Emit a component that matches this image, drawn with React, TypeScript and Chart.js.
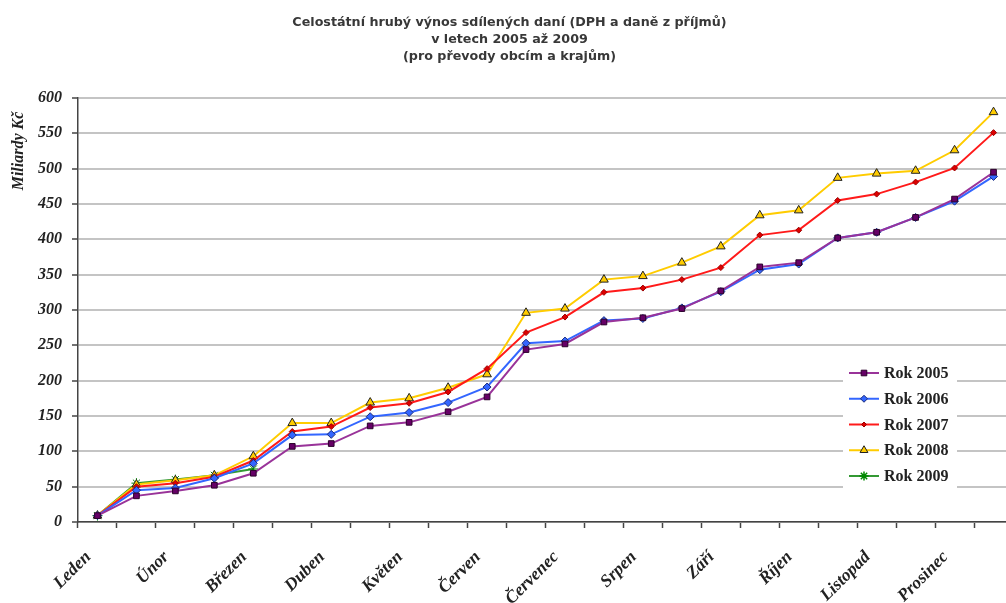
import React, { useEffect, useRef } from "react";
import { Chart, registerables } from "chart.js";

Chart.register(...registerables);

const months = ["Leden", "Únor", "Březen", "Duben", "Květen", "Červen", "Červenec", "Srpen", "Září", "Říjen", "Listopad", "Prosinec"];
const categories = months.flatMap((m) => [m, ""]);

const rok2005 = [9, 37, 44, 52, 69, 107, 111, 136, 141, 156, 177, 244, 252, 283, 289, 302, 327, 361, 367, 402, 410, 431, 457, 495];
const rok2006 = [9, 45, 48, 62, 83, 123, 124, 149, 155, 169, 191, 253, 256, 285, 288, 303, 326, 357, 365, 402, 410, 431, 454, 489];
const rok2007 = [9, 50, 55, 64, 87, 128, 135, 162, 168, 184, 217, 268, 290, 325, 331, 343, 360, 406, 413, 455, 464, 481, 501, 551];
const rok2008 = [9, 53, 59, 66, 93, 140, 140, 169, 175, 190, 209, 296, 302, 343, 348, 367, 390, 434, 441, 487, 493, 497, 526, 580];
const rok2009 = [9, 55, 60, 66, 75];

const seriesNames = ["Rok 2005", "Rok 2006", "Rok 2007", "Rok 2008", "Rok 2009"];
const yTicks = [0, 50, 100, 150, 200, 250, 300, 350, 400, 450, 500, 550, 600];
const titleLines = [
  "Celostátní hrubý výnos sdílených daní (DPH a daně z příjmů)",
  "v letech 2005 až 2009",
  "(pro převody obcím a krajům)",
];
const yTitle = "Miliardy Kč";

const styles = [
  { line: "#993399", fill: "#660066", border: "#2a002a", shape: "rect", r: 4 },
  { line: "#3366ff", fill: "#3366ff", border: "#1a2a7a", shape: "rectRot", r: 4 },
  { line: "#ff1a1a", fill: "#dd0000", border: "#990000", shape: "rectRot", r: 3 },
  { line: "#ffcc00", fill: "#ffcc00", border: "#222222", shape: "triangle", r: 5 },
  { line: "#339933", fill: "#22aa22", border: "#008800", shape: "star", r: 5 },
];

function drawMarker(ctx: CanvasRenderingContext2D, shape: string, x: number, y: number, r: number, fill: string, border: string) {
  ctx.save();
  ctx.fillStyle = fill;
  ctx.strokeStyle = border;
  ctx.lineWidth = 1;
  ctx.beginPath();
  if (shape === "rect") {
    ctx.rect(x - r * 0.8, y - r * 0.8, r * 1.6, r * 1.6);
    ctx.fill();
    ctx.stroke();
  } else if (shape === "rectRot") {
    ctx.moveTo(x, y - r);
    ctx.lineTo(x + r, y);
    ctx.lineTo(x, y + r);
    ctx.lineTo(x - r, y);
    ctx.closePath();
    ctx.fill();
    ctx.stroke();
  } else if (shape === "triangle") {
    ctx.moveTo(x, y - r);
    ctx.lineTo(x + r * 0.87, y + r * 0.5);
    ctx.lineTo(x - r * 0.87, y + r * 0.5);
    ctx.closePath();
    ctx.fill();
    ctx.stroke();
  } else {
    ctx.lineWidth = 1.5;
    for (let i = 0; i < 4; i++) {
      const a = (i * Math.PI) / 4;
      ctx.moveTo(x - Math.cos(a) * r, y - Math.sin(a) * r);
      ctx.lineTo(x + Math.cos(a) * r, y + Math.sin(a) * r);
    }
    ctx.stroke();
  }
  ctx.restore();
}

const extrasPlugin = {
  id: "extras",
  afterDraw(chart: any) {
    const ctx: CanvasRenderingContext2D = chart.ctx;
    // y-axis title
    ctx.save();
    ctx.translate(19, 151);
    ctx.rotate(-Math.PI / 2);
    ctx.font = "italic bold 16px 'Liberation Serif'";
    ctx.fillStyle = "#222";
    ctx.textAlign = "center";
    ctx.textBaseline = "middle";
    ctx.fillText(yTitle, 0, 0);
    ctx.restore();

    // legend
    ctx.save();
    ctx.fillStyle = "#ffffff";
    ctx.fillRect(843, 358, 114, 134);
    const y0 = 373;
    const dy = 25.75;
    seriesNames.forEach((name, i) => {
      const st = styles[i];
      const y = y0 + i * dy;
      ctx.strokeStyle = st.line;
      ctx.lineWidth = 2;
      ctx.beginPath();
      ctx.moveTo(849, y);
      ctx.lineTo(879, y);
      ctx.stroke();
      drawMarker(ctx, st.shape, 864, y, st.r - 0.5, st.fill, st.border);
      ctx.fillStyle = "#222";
      ctx.font = "bold 16px 'Liberation Serif'";
      ctx.textAlign = "left";
      ctx.textBaseline = "middle";
      ctx.fillText(name, 884, y + 1);
    });
    ctx.restore();
  },
};

export default function App() {
  const ref = useRef<HTMLCanvasElement | null>(null);

  useEffect(() => {
    if (!ref.current) return;
    const allData = [rok2005, rok2006, rok2007, rok2008, rok2009];
    const chart = new Chart(ref.current, {
      type: "line",
      data: {
        labels: categories,
        datasets: allData.map((d, i) => ({
          label: seriesNames[i],
          data: d,
          borderColor: styles[i].line,
          backgroundColor: styles[i].fill,
          borderWidth: 2,
          pointStyle: styles[i].shape as any,
          pointRadius: styles[i].r,
          pointBackgroundColor: styles[i].fill,
          pointBorderColor: styles[i].border,
          pointBorderWidth: 1,
          tension: 0,
          fill: false,
        })),
      },
      options: {
        responsive: false,
        animation: false,
        layout: { padding: { left: 0, right: 0, top: 0, bottom: 0 } },
        plugins: {
          legend: { display: false },
          tooltip: { enabled: false },
          title: {
            display: true,
            text: titleLines,
            color: "#383838",
            font: { family: "'DejaVu Sans'", size: 12.7, weight: "bold", lineHeight: 17 / 12.7 },
            padding: { top: 14.5, bottom: 32.5 },
          },
        },
        scales: {
          x: {
            type: "category",
            offset: true,
            grid: {
              display: true,
              drawOnChartArea: false,
              drawTicks: true,
              tickLength: 6,
              tickColor: "#444",
              tickWidth: 1.5,
              offset: true,
            },
            border: { color: "#444", width: 1.5 },
            ticks: {
              autoSkip: false,
              maxRotation: 45,
              minRotation: 45,
              padding: 19,
              labelOffset: -9,
              color: "#222",
              font: { family: "'Liberation Serif'", size: 17.5, style: "italic", weight: "bold" },
            },
            afterFit: (scale: any) => {
              scale.height = 81;
              scale.paddingLeft = 0;
              scale.paddingRight = 0;
            },
          },
          y: {
            min: 0,
            max: 600,
            afterBuildTicks: (scale: any) => {
              scale.ticks = yTicks.map((v) => ({ value: v }));
            },
            grid: {
              color: "#c4c4c4",
              lineWidth: 2,
              drawTicks: true,
              tickLength: 6,
              tickColor: "#444",
              tickWidth: 1.5,
            },
            border: { color: "#444", width: 1.5 },
            ticks: {
              padding: 10,
              color: "#222",
              font: { family: "'Liberation Serif'", size: 16, style: "italic", weight: "bold" },
            },
            afterFit: (scale: any) => {
              scale.width = 78;
            },
          },
        },
      },
      plugins: [extrasPlugin],
    });
    return () => chart.destroy();
  }, []);

  return (
    <div style={{ position: "absolute", left: 0, top: 0, width: 1006, height: 603, overflow: "hidden", background: "#fff" }}>
      <canvas ref={ref} width={1019} height={603} style={{ display: "block" }} />
    </div>
  );
}
